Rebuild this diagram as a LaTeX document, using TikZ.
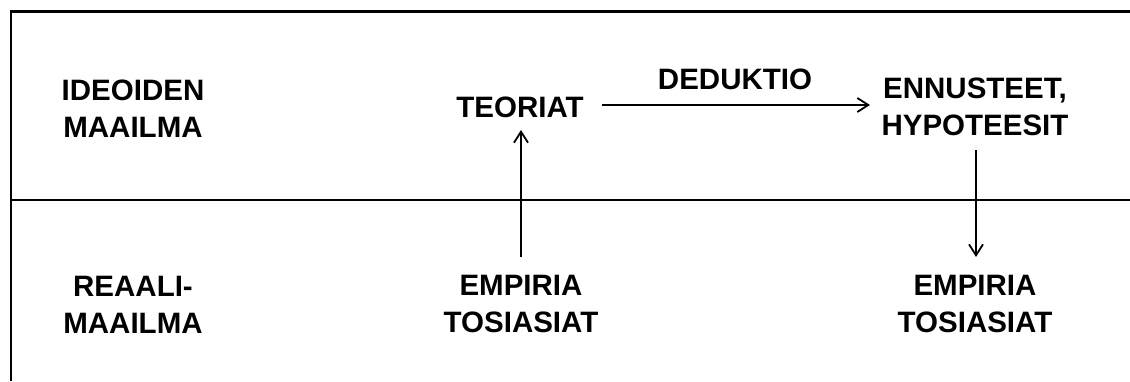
\documentclass[tikz,border=0pt]{standalone}
\usepackage{fontspec}
\setmainfont{Liberation Sans}
\usetikzlibrary{arrows.meta}
\begin{document}
\begin{tikzpicture}[x=1pt,y=1pt,
  lbl/.style={font=\fontsize{29.5}{37}\selectfont\bfseries, align=center, inner sep=0pt, anchor=base},
  conn/.style={line width=1.8pt, -{Straight Barb[length=11pt,width=14pt,line width=1.8pt]}}]
\useasboundingbox (0,0) rectangle (1130,-381);
% frame
\draw[line width=2.5pt] (11,-381) -- (11,-11.5) -- (1130,-11.5);
\draw[line width=2pt] (11,-200) -- (1130,-200);
% labels
\node[lbl] (ideo) at (133,-137) {IDEOIDEN\\MAAILMA};
\node[lbl] (reaali) at (133,-333) {REAALI-\\MAAILMA};
\node[lbl] (teoriat) at (520,-117) {TEORIAT};
\node[lbl] (dedu) at (735,-89) {DEDUKTIO};
\node[lbl] (ennu) at (975,-135) {ENNUSTEET,\\HYPOTEESIT};
\node[lbl] (emp1) at (521,-332) {EMPIRIA\\TOSIASIAT};
\node[lbl] (emp2) at (975,-332) {EMPIRIA\\TOSIASIAT};
% connectors
\coordinate (a1) at (521,-257);
\coordinate (a2) at (521,-130);
\coordinate (b1) at (602,-105);
\coordinate (b2) at (870,-105);
\coordinate (c1) at (976,-150);
\coordinate (c2) at (976,-257);
\draw[conn] (a1) -- (a2);
\draw[conn] (b1) -- (b2);
\draw[conn] (c1) -- (c2);
\end{tikzpicture}
\end{document}
